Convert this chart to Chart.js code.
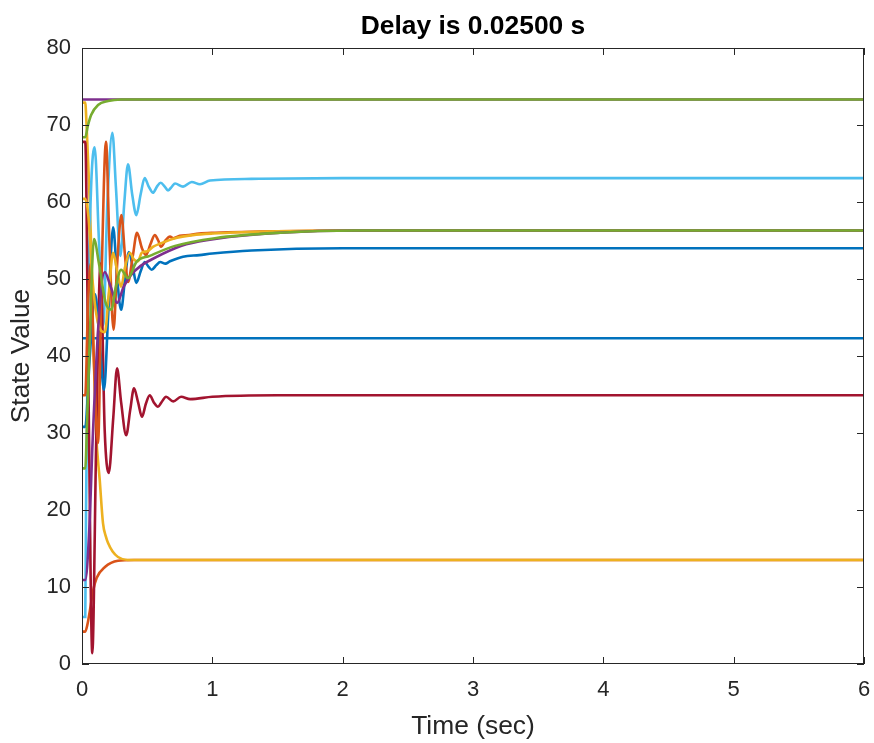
<!DOCTYPE html>
<html>
<head>
<meta charset="utf-8">
<title>Delay is 0.02500 s</title>
<script src="https://cdn.jsdelivr.net/npm/chart.js@4/dist/chart.umd.min.js"></script>
<style>
  html, body { margin: 0; padding: 0; background: #fff; }
  #stateChart { display: block; }
</style>
</head>
<body>
<canvas id="stateChart" width="874" height="743"></canvas>
<script>
// state trajectories, [time (s), value] pairs, in plot order
const blueFlat   = [[0, 42.3], [6, 42.3]];
const orangeLow  = [[0, 4.2], [0.025, 4.2], [0.04, 5.0], [0.061, 7.0], [0.085, 9.5], [0.113, 11.2],
                    [0.176, 12.6], [0.276, 13.4], [0.4, 13.5], [6, 13.5]];
const yellowLow  = [[0, 72.9], [0.025, 72.9], [0.035, 70], [0.05, 64], [0.069, 55], [0.088, 41],
                    [0.107, 30.4], [0.136, 23.9], [0.161, 18.3], [0.184, 16.5], [0.2, 15.7],
                    [0.235, 14.6], [0.276, 13.9], [0.35, 13.5], [6, 13.5]];
const purpleTop  = [[0, 73.3], [6, 73.3]];
const greenTop   = [[0, 68.4], [0.025, 68.4], [0.045, 69.9], [0.07, 71.3], [0.123, 72.6],
                    [0.2, 73.1], [0.3, 73.3], [6, 73.3]];
const lightBlue  = [[0, 6.1], [0.025, 6.1], [0.031, 20], [0.046, 45], [0.07, 62], [0.097, 67.1],
                    [0.13, 55], [0.163, 44], [0.195, 60], [0.233, 69], [0.26, 62], [0.294, 53],
                    [0.325, 60], [0.353, 64.9], [0.385, 61], [0.417, 58.3], [0.45, 61],
                    [0.481, 63.1], [0.512, 62], [0.545, 61.2], [0.575, 62], [0.604, 62.5],
                    [0.635, 62], [0.66, 61.5], [0.69, 62], [0.714, 62.4], [0.775, 62],
                    [0.842, 62.6], [0.905, 62.3], [0.982, 62.8], [1.3, 63.0], [2, 63.1], [6, 63.1]];
const darkRed    = [[0, 67.8], [0.025, 67.8], [0.05, 35], [0.079, 1.4], [0.11, 30], [0.142, 52],
                    [0.174, 30.4], [0.205, 24.8], [0.24, 32], [0.269, 38.4], [0.3, 34],
                    [0.339, 29.7], [0.37, 33], [0.399, 35.8], [0.43, 34], [0.46, 32.1],
                    [0.49, 33.8], [0.52, 34.9], [0.55, 34], [0.583, 33.4], [0.61, 34],
                    [0.645, 34.7], [0.7, 34.1], [0.76, 34.7], [0.83, 34.4], [1.0, 34.7],
                    [1.5, 34.9], [6, 34.9]];
const blueOsc    = [[0, 30.8], [0.025, 30.8], [0.06, 40], [0.1, 48], [0.135, 42], [0.169, 35.6],
                    [0.2, 45], [0.239, 56.7], [0.27, 50], [0.3, 46], [0.33, 50], [0.36, 53.5],
                    [0.39, 51.5], [0.417, 49.5], [0.45, 51], [0.481, 52.2], [0.51, 51.6],
                    [0.535, 51.2], [0.57, 51.8], [0.6, 52.2], [0.64, 52], [0.675, 52.3],
                    [0.775, 52.9], [0.9, 53.1], [1.0, 53.3], [1.3, 53.7], [2, 54], [6, 54]];
const orangeMid  = [[0, 34.9], [0.025, 34.9], [0.045, 46], [0.066, 52], [0.09, 40], [0.123, 28.7],
                    [0.15, 50], [0.184, 67.8], [0.21, 55], [0.242, 43.4], [0.27, 52],
                    [0.302, 58.3], [0.33, 53], [0.353, 49.6], [0.39, 53], [0.422, 56],
                    [0.46, 54], [0.491, 53.1], [0.525, 54.5], [0.558, 55.7], [0.585, 55],
                    [0.606, 54.2], [0.64, 55], [0.675, 55.5], [0.7, 55.3], [0.75, 55.6],
                    [0.82, 55.7], [0.9, 55.9], [1.02, 56], [1.5, 56.2], [2.1, 56.3], [6, 56.3]];
const yellowMid  = [[0, 60.4], [0.025, 60.4], [0.05, 58], [0.08, 50], [0.12, 44.5], [0.176, 43.1],
                    [0.205, 48], [0.239, 53.4], [0.27, 51], [0.3, 49], [0.33, 51.5],
                    [0.366, 53.4], [0.4, 52.5], [0.43, 52.3], [0.458, 53.4], [0.5, 53.6],
                    [0.547, 54.2], [0.6, 54.6], [0.714, 55.3], [0.85, 55.7], [1.0, 55.9],
                    [1.5, 56.2], [2.1, 56.3], [6, 56.3]];
const purpleMid  = [[0, 10.9], [0.025, 10.9], [0.054, 16.8], [0.084, 30], [0.13, 45],
                    [0.174, 50.9], [0.22, 49], [0.269, 46.9], [0.32, 49], [0.375, 50.5],
                    [0.45, 51.7], [0.53, 52.5], [0.714, 54], [0.8, 54.5], [1.02, 55.2],
                    [1.52, 56], [2.1, 56.3], [6, 56.3]];
const greenMid   = [[0, 25.4], [0.025, 25.4], [0.04, 32], [0.061, 43], [0.092, 55.2], [0.13, 52],
                    [0.18, 47], [0.225, 46], [0.26, 49], [0.3, 51.2], [0.353, 50.1],
                    [0.417, 52.2], [0.52, 53], [0.714, 54.3], [1.02, 55.3], [1.52, 56],
                    [2.1, 56.3], [6, 56.3]];

const xTicks = [0, 1, 2, 3, 4, 5, 6];
const yTicks = [0, 10, 20, 30, 40, 50, 60, 70, 80];

const series = [
  [blueFlat, '#0072BD'], [orangeLow, '#D95319'], [yellowLow, '#EDB120'],
  [purpleTop, '#7E2F8E'], [greenTop, '#77AC30'], [lightBlue, '#4DBEEE'],
  [darkRed, '#A2142F'], [blueOsc, '#0072BD'], [orangeMid, '#D95319'],
  [yellowMid, '#EDB120'], [purpleMid, '#7E2F8E'], [greenMid, '#77AC30']
];

const axisColor = '#262626';
const fontFamily = "'Liberation Sans', Arial, Helvetica, sans-serif";

// box around the axes with inward tick marks on all four sides
const axesBox = {
  id: 'axesBox',
  afterDatasetsDraw(chart) {
    const { ctx, chartArea: a, scales: { x, y } } = chart;
    const len = 7;
    ctx.save();
    ctx.strokeStyle = axisColor;
    ctx.lineWidth = 1;
    ctx.beginPath();
    xTicks.forEach(v => {
      const px = Math.round(x.getPixelForValue(v)) + 0.5;
      ctx.moveTo(px, a.bottom); ctx.lineTo(px, a.bottom - len);
      ctx.moveTo(px, a.top); ctx.lineTo(px, a.top + len);
    });
    yTicks.forEach(v => {
      const py = Math.round(y.getPixelForValue(v)) + 0.5;
      ctx.moveTo(a.left, py); ctx.lineTo(a.left + len, py);
      ctx.moveTo(a.right, py); ctx.lineTo(a.right - len, py);
    });
    ctx.stroke();
    ctx.strokeRect(Math.round(a.left) + 0.5, Math.round(a.top) + 0.5,
                   Math.round(a.right - a.left) - 1, Math.round(a.bottom - a.top) - 1);
    ctx.restore();
  }
};

new Chart(document.getElementById('stateChart'), {
  type: 'line',
  data: {
    datasets: series.map(([pts, color], i) => ({
      data: pts.map(([t, v]) => ({ x: t, y: v })),
      borderColor: color,
      borderWidth: 2.6,
      pointRadius: 0,
      fill: false,
      cubicInterpolationMode: 'monotone',
      order: series.length - i
    }))
  },
  options: {
    responsive: false,
    animation: false,
    events: [],
    layout: { padding: { left: 0, right: 10, top: 0, bottom: 0 } },
    plugins: {
      legend: { display: false },
      tooltip: { enabled: false },
      title: {
        display: true,
        fullSize: false,
        text: 'Delay is 0.02500 s',
        color: '#000',
        font: { family: fontFamily, size: 26.4, weight: 'bold' },
        padding: { top: 11.2, bottom: 5.1 }
      }
    },
    scales: {
      x: {
        type: 'linear',
        min: 0,
        max: 6,
        afterBuildTicks: s => { s.ticks = xTicks.map(v => ({ value: v })); },
        afterFit: s => { s.height = 79; s.paddingLeft = 0; s.paddingRight = 0; },
        grid: { display: false, drawTicks: false },
        border: { display: false },
        ticks: { color: axisColor, padding: 13, maxRotation: 0,
                 font: { family: fontFamily, size: 22 } },
        title: { display: true, text: 'Time (sec)', color: axisColor,
                 font: { family: fontFamily, size: 26.4 }, padding: { top: 0, bottom: 0.2 } }
      },
      y: {
        type: 'linear',
        min: 0,
        max: 80,
        afterBuildTicks: s => { s.ticks = yTicks.map(v => ({ value: v })); },
        afterFit: s => { s.width = 82; s.paddingTop = 0; s.paddingBottom = 0; },
        grid: { display: false, drawTicks: false },
        border: { display: false },
        ticks: { color: axisColor, padding: 11,
                 font: { family: fontFamily, size: 22 } },
        title: { display: true, text: 'State Value', color: axisColor,
                 font: { family: fontFamily, size: 26.4 }, padding: { top: 6.2, bottom: 0 } }
      }
    }
  },
  plugins: [axesBox]
});
</script>
</body>
</html>
